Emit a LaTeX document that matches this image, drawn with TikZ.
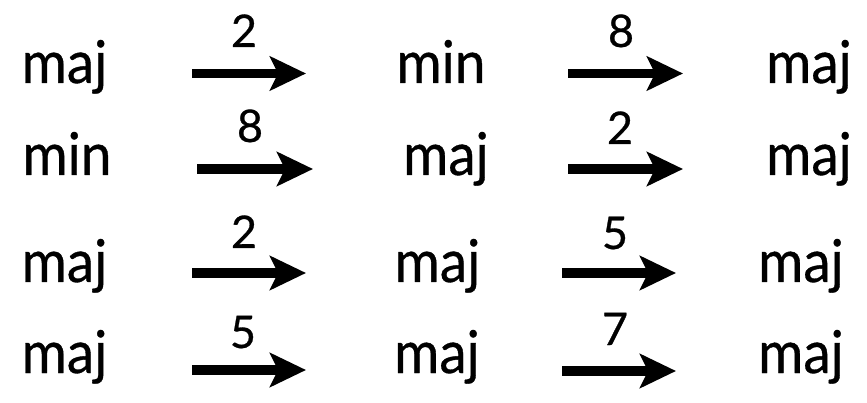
\documentclass[tikz,border=0pt]{standalone}
\usepackage{fontspec}
\usepackage{graphicx}
\setmainfont{Lato}
\newfontface\wordface{Lato}[FakeBold=0.6]
\usetikzlibrary{arrows.meta}
\newcommand\sqz[1]{\scalebox{0.93}[1]{#1}}
\tikzset{
  word/.style={inner sep=0pt, anchor=base, font=\wordface\fontsize{59}{64}\selectfont},
  lbl/.style={inner sep=0pt, anchor=base, font=\wordface\fontsize{45}{50}\selectfont},
  arr/.style={line width=9.5pt, -{Stealth[length=36pt,width=34pt,inset=8pt]}}
}
\begin{document}
\begin{tikzpicture}[x=1pt,y=-1pt]
\useasboundingbox (0,0) rectangle (867,403);
% row 1
\node[word] (r1a) at (64.5,83) {\sqz{maj}};
\node[word] (r1b) at (441,83) {\sqz{min}};
\node[word] (r1c) at (809,83) {\sqz{maj}};
\coordinate (r1s1) at (192,73.5); \coordinate (r1e1) at (306,73.5);
\coordinate (r1s2) at (568,73.5); \coordinate (r1e2) at (683,73.5);
\draw[arr] (r1s1) -- (r1e1);
\draw[arr] (r1s2) -- (r1e2);
\node[lbl] (r1l1) at (244,47) {2};
\node[lbl] (r1l2) at (621,47) {8};
% row 2
\node[word] (r2a) at (67,175) {\sqz{min}};
\node[word] (r2b) at (446,175) {\sqz{maj}};
\node[word] (r2c) at (809,175) {\sqz{maj}};
\coordinate (r2s1) at (197,169); \coordinate (r2e1) at (313,169);
\coordinate (r2s2) at (568,169); \coordinate (r2e2) at (683,169);
\draw[arr] (r2s1) -- (r2e1);
\draw[arr] (r2s2) -- (r2e2);
\node[lbl] (r2l1) at (250,142) {8};
\node[lbl] (r2l2) at (620,144) {2};
% row 3
\node[word] (r3a) at (64.5,282) {\sqz{maj}};
\node[word] (r3b) at (437.5,282) {\sqz{maj}};
\node[word] (r3c) at (801,282) {\sqz{maj}};
\coordinate (r3s1) at (192,273); \coordinate (r3e1) at (306,273);
\coordinate (r3s2) at (562,273); \coordinate (r3e2) at (676,273);
\draw[arr] (r3s1) -- (r3e1);
\draw[arr] (r3s2) -- (r3e2);
\node[lbl] (r3l1) at (244,248) {2};
\node[lbl] (r3l2) at (615,249) {5};
% row 4
\node[word] (r4a) at (64.5,373) {\sqz{maj}};
\node[word] (r4b) at (437,373) {\sqz{maj}};
\node[word] (r4c) at (801,373) {\sqz{maj}};
\coordinate (r4s1) at (192,370); \coordinate (r4e1) at (306,370);
\coordinate (r4s2) at (562,371); \coordinate (r4e2) at (676,371);
\draw[arr] (r4s1) -- (r4e1);
\draw[arr] (r4s2) -- (r4e2);
\node[lbl] (r4l1) at (243,348) {5};
\node[lbl] (r4l2) at (615,345) {7};
\end{tikzpicture}
\end{document}
